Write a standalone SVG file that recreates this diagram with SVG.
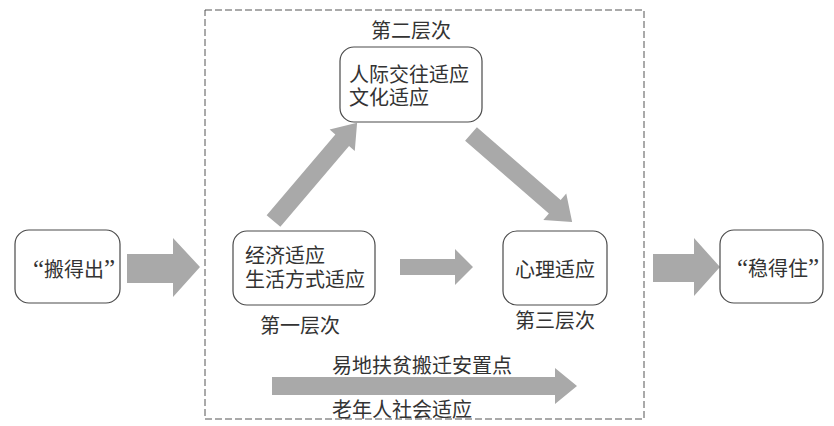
<svg xmlns="http://www.w3.org/2000/svg" width="834" height="426" viewBox="0 0 834 426">
<style>
.node{fill:#fff;stroke:#4a4a4a;stroke-width:1.2}
.t{font-family:"Liberation Serif","Noto Sans CJK SC",serif;font-size:20px;fill:#333}
.q{font-size:25px}
.m{text-anchor:middle}
.arr{fill:#a9a9a9}
.frame{fill:none;stroke:#555;stroke-width:1;stroke-dasharray:7 3}
</style>
<rect width="834" height="426" fill="#fff"/>
<rect class="frame" x="205" y="10" width="439" height="409"/>
<g id="connectors">
<polygon class="arr" points="127,254 173,254 173,238 200,267 173,297 173,283 127,283"/>
<polygon class="arr" points="653,254 694,254 694,238 720,267 694,296 694,282 653,282"/>
<polygon class="arr" points="400,259 455,259 455,249 473,267 455,285 455,275 400,275"/>
<polygon class="arr" points="272,377 555,377 555,368 577,386 555,404 555,395 272,395"/>
<polygon class="arr" transform="translate(273.5,221) rotate(-49.6)" points="0,-9 106,-9 106,-16.5 129,0 106,16.5 106,9 0,9"/>
<polygon class="arr" transform="translate(471,134) rotate(41)" points="0,-9 111,-9 111,-17.5 134,0 111,17.5 111,9 0,9"/>
</g>
<g id="node-bandechu">
<rect class="node" x="15" y="230" width="105" height="73" rx="14"/>
<text class="t m" x="74" y="277"><tspan class="q">“</tspan>搬得出<tspan class="q">”</tspan></text>
</g>
<g id="node-level2">
<text class="t m" x="411" y="38">第二层次</text>
<rect class="node" x="340" y="47" width="142" height="75" rx="14"/>
<text class="t" x="349" y="82">人际交往适应</text>
<text class="t" x="349" y="105">文化适应</text>
</g>
<g id="node-level1">
<rect class="node" x="233" y="231" width="142" height="74" rx="14"/>
<text class="t" x="245" y="263">经济适应</text>
<text class="t" x="245" y="287">生活方式适应</text>
<text class="t m" x="300" y="333">第一层次</text>
</g>
<g id="node-level3">
<rect class="node" x="503" y="231" width="104" height="74" rx="14"/>
<text class="t m" x="555" y="277">心理适应</text>
<text class="t m" x="555" y="328">第三层次</text>
</g>
<g id="node-wendezhu">
<rect class="node" x="720" y="230" width="103" height="73" rx="14"/>
<text class="t m" x="778" y="276"><tspan class="q">“</tspan>稳得住<tspan class="q">”</tspan></text>
</g>
<g id="labels-bottom">
<text class="t" x="332" y="373">易地扶贫搬迁安置点</text>
<text class="t" x="332" y="417">老年人社会适应</text>
</g>
</svg>
